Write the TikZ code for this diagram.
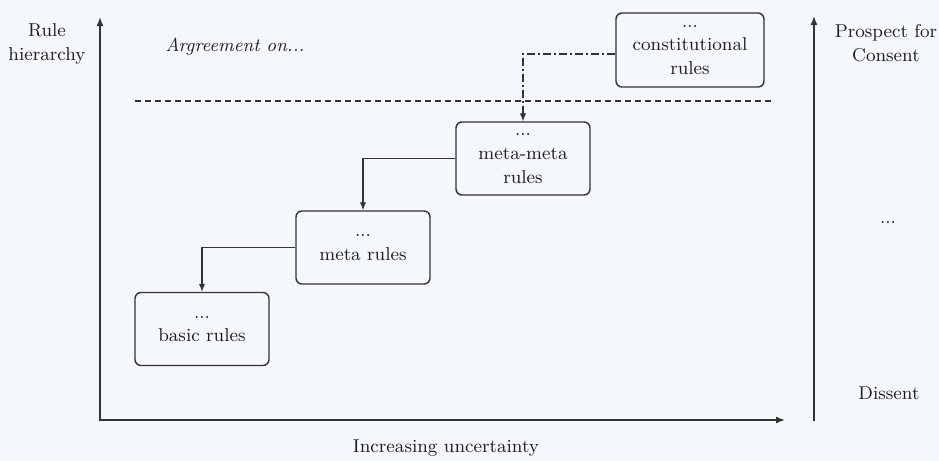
\documentclass[tikz,border=0pt]{standalone}
\usepackage{fontspec}
\usetikzlibrary{arrows.meta}
\definecolor{bg}{HTML}{F5F8FA}
\definecolor{ink}{HTML}{333333}
\definecolor{txt}{HTML}{1E1E1E}
\begin{document}
\begin{tikzpicture}[x=0.5pt,y=-0.5pt,
  font=\rmfamily\fontsize{9.3}{11.8}\selectfont, text=txt,
  rulebox/.style={draw=ink, line width=0.7pt, rounded corners=3pt,
    minimum width=67pt, minimum height=36.5pt, align=center, inner sep=1pt},
  lbl/.style={align=center, inner sep=0pt},
  axisline/.style={draw=ink, line width=0.75pt},
  link/.style={draw=ink, line width=0.6pt, -{Latex[length=4pt,width=3.2pt]}},
  dashdot/.style={dash pattern=on 4pt off 1.5pt on 1pt off 1.5pt}]
\fill[bg] (0,0) rectangle (939,461);
\useasboundingbox (0,0) rectangle (939,461);

% axes
\coordinate (ytop) at (100,17);
\coordinate (xend) at (785,420);
\coordinate (rbot) at (814,421);
\coordinate (rtop) at (814,16);
\draw[axisline, {Latex[length=4.5pt,width=3.5pt]}-{Latex[length=4.5pt,width=3.5pt]}] (ytop) |- (xend);
\draw[axisline, -{Latex[length=4.5pt,width=3.5pt]}] (rbot) -- (rtop);

% dashed separator
\coordinate (dl) at (135,101);
\coordinate (dr) at (772,101);
\draw[draw=ink, line width=0.6pt, dash pattern=on 3pt off 2pt] (dl) -- (dr);

% boxes
\node[rulebox, minimum width=74pt, minimum height=37pt] (con) at (690,50) {...\\constitutional\\rules};
\node[rulebox] (mm) at (523,158.5) {...\\meta-meta\\rules};
\node[rulebox] (meta) at (363,247.5) {...\\meta rules};
\node[rulebox] (basic) at (202,329) {...\\basic rules};

% connectors
\draw[link, dashdot] ([yshift=-2pt]con.west) -| (mm.north);
\draw[link] (mm.west) -| (meta.north);
\draw[link] (meta.west) -| (basic.north);

% labels
\node[lbl] (rh) at (47,44) {Rule\\hierarchy};
\node[lbl, font=\rmfamily\fontsize{9.3}{11.8}\selectfont\itshape] (agr) at (235,47) {Argreement on...};
\node[lbl] (pc) at (886,43) {Prospect for\\Consent};
\node[lbl] (dots) at (888,222) {...};
\node[lbl] (dis) at (889,393) {Dissent};
\node[lbl] (iu) at (446,448) {Increasing uncertainty};
\end{tikzpicture}
\end{document}
